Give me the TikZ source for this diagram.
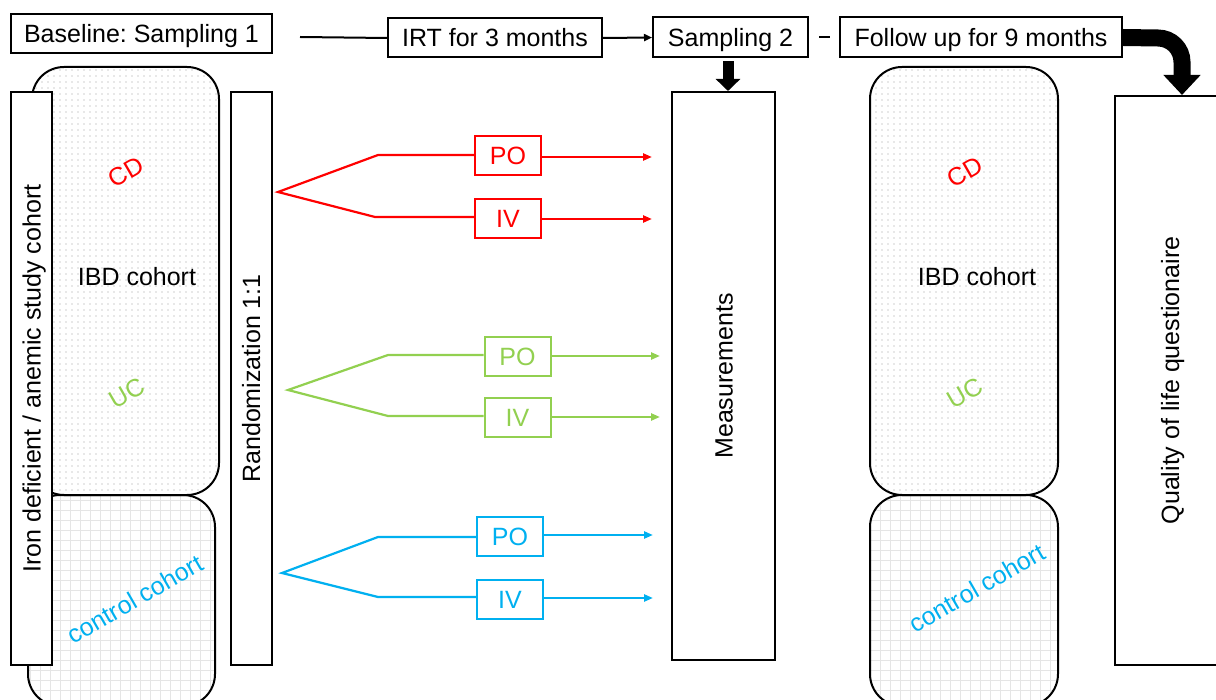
\documentclass[tikz,border=0pt]{standalone}
\usepackage{fontspec}
\setmainfont{Liberation Sans}
\usetikzlibrary{arrows.meta,patterns.meta}
\definecolor{cdred}{HTML}{FF0000}
\definecolor{ucgreen}{HTML}{92D050}
\definecolor{ctblue}{HTML}{00B0F0}
\frenchspacing
\begin{document}
\begin{tikzpicture}[x=1pt,y=-1pt,
  every node/.style={font=\fontsize{25}{29}\selectfont,text height=20pt,text depth=2pt},
  box/.style={draw=black,line width=2pt,fill=white,inner sep=0pt},
  tall/.style={box,minimum width=41pt,minimum height=573pt},
  cohortA/.style={draw=black,line width=2pt,rounded corners=32pt,
     pattern={Dots[radius=0.6pt,distance=6pt]},pattern color=gray!75},
  cohortB/.style={draw=black,line width=2pt,rounded corners=32pt,
     pattern={Hatch[angle=0,distance=10pt,line width=0.8pt]},pattern color=gray!20},
  treat/.style={draw,line width=2pt,fill=white,minimum width=66pt,minimum height=39pt,inner sep=0pt},
  branch/.style={line width=2.2pt},
  flow/.style={line width=2.2pt,-{Triangle[length=9pt,width=7pt]}},
  lbl/.style={rotate=30}
]
\useasboundingbox (0,0) rectangle (1216,700);
\fill[white] (0,0) rectangle (1216,700);

% cohort shapes (left)
\draw[cohortB] (28,495) rectangle (215,706);
\draw[cohortA] (32,67) rectangle (219,495);
% cohort shapes (right)
\draw[cohortB] (870,495) rectangle (1058,706);
\draw[cohortA] (870,67) rectangle (1058,495);

% top row
\node[box,minimum width=261pt,minimum height=39pt] (base) at (141.5,34) {Baseline: Sampling 1};
\node[box,minimum width=214pt,minimum height=39pt] (irt) at (495,38) {IRT for 3 months};
\node[box,minimum width=155pt,minimum height=40pt] (s2) at (730.5,37.5) {Sampling 2};
\node[box,minimum width=282pt,minimum height=40pt] (fu) at (981,37.5) {Follow up for 9 months};
\coordinate (l0) at (300,37);
\draw[line width=2pt] (l0) -- (irt.west);
\draw[line width=2pt,-{Triangle[length=8pt,width=7pt]}] (irt.east) -- (s2.west);
\coordinate (d0) at (819,37);
\coordinate (d1) at (830,37);
\draw[line width=2.4pt] (d0) -- (d1);

% tall boxes
\node[tall] (iron) at (31.5,378.5) {};
\node[rotate=90] at (iron.center) {Iron deficient / anemic study cohort};
\node[tall] (rand) at (251,378.5) {};
\node[rotate=90] at (rand.center) {Randomization 1:1};
\node[box,minimum width=103pt,minimum height=568pt] (meas) at (723.5,376) {};
\node[rotate=90] at (meas.center) {Measurements};
\node[box,minimum width=110pt,minimum height=569pt] (qol) at (1170,380.5) {};
\node[rotate=90] at (qol.center) {Quality of life questionaire};

% thick arrows
\draw[line width=11pt,-{Triangle[length=12pt,width=24pt]}] (s2.south -| 728,0) ++(0,3) -- (meas.north -| 728,0);
\coordinate (q0) at (1158,38);
\draw[line width=17pt,-{Triangle[length=20pt,width=36pt]}] (fu.east) -- (q0) arc[start angle=90,end angle=0,radius=24pt] -- (qol.north -| 1182,0) ;

% labels in cohorts
\node[text=cdred,lbl] (cd1) at (126,172) {CD};
\node (ibd1) at (137,277) {IBD cohort};
\node[text=ucgreen,lbl] (uc1) at (127,393) {UC};
\node[text=ctblue,lbl] (ct1) at (135,599) {control cohort};
\node[text=cdred,lbl] (cd2) at (965,172) {CD};
\node (ibd2) at (977,277) {IBD cohort};
\node[text=ucgreen,lbl] (uc2) at (965,393) {UC};
\node[text=ctblue,lbl] (ct2) at (977,588) {control cohort};

% red branch
\begin{scope}[text=cdred]
\node[treat,draw=cdred] (rpo) at (508,156) {PO};
\node[treat,draw=cdred] (riv) at (508,219) {IV};
\coordinate (ra) at (278,192);
\coordinate (ru) at (378,155);
\coordinate (rl) at (375,217);
\coordinate (rpe) at (652,157);
\coordinate (rie) at (652,219);
\draw[branch,cdred] (rpo.west |- ru) -- (ru) -- (ra) -- (rl) -- (riv.west |- rl);
\draw[flow,cdred] (rpo.east |- rpe) -- (rpe);
\draw[flow,cdred] (riv.east) -- (rie);
\end{scope}

% green branch
\begin{scope}[text=ucgreen]
\node[treat,draw=ucgreen] (gpo) at (517.5,356.5) {PO};
\node[treat,draw=ucgreen] (giv) at (517.5,417.5) {IV};
\coordinate (ga) at (288,390);
\coordinate (gu) at (388,355);
\coordinate (gl) at (388,416);
\coordinate (gpe) at (660,356);
\coordinate (gie) at (660,417);
\draw[branch,ucgreen] (gpo.west |- gu) -- (gu) -- (ga) -- (gl) -- (giv.west |- gl);
\draw[flow,ucgreen] (gpo.east |- gpe) -- (gpe);
\draw[flow,ucgreen] (giv.east |- gie) -- (gie);
\end{scope}

% blue branch
\begin{scope}[text=ctblue]
\node[treat,draw=ctblue] (bpo) at (510,536.5) {PO};
\node[treat,draw=ctblue] (biv) at (510,599) {IV};
\coordinate (ba) at (282,573);
\coordinate (bu) at (378,537);
\coordinate (bl) at (378,597);
\coordinate (bpe) at (653,535);
\coordinate (bie) at (653,598);
\draw[branch,ctblue] (bpo.west |- bu) -- (bu) -- (ba) -- (bl) -- (biv.west |- bl);
\draw[flow,ctblue] (bpo.east |- bpe) -- (bpe);
\draw[flow,ctblue] (biv.east |- bie) -- (bie);
\end{scope}
\end{tikzpicture}
\end{document}
